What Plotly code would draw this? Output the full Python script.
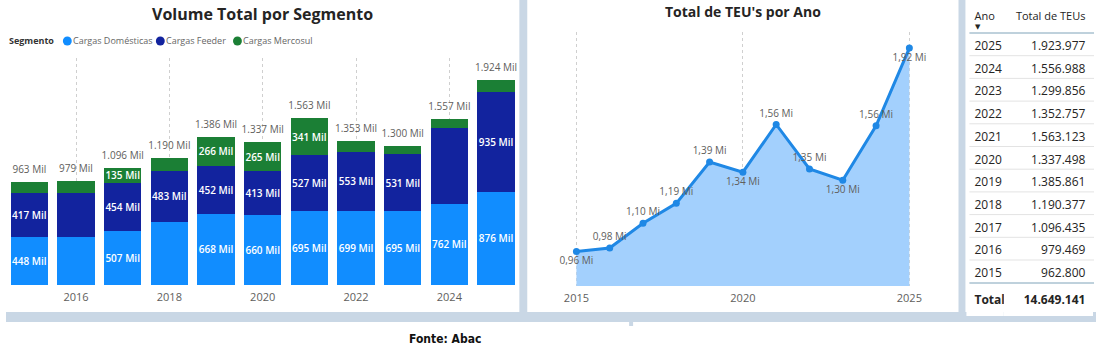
import plotly.graph_objects as go

W, H = 1102, 351

# ---------------- data ----------------
years = [2015, 2016, 2017, 2018, 2019, 2020, 2021, 2022, 2023, 2024, 2025]
# segments, in thousands (Mil)
domesticas = [448, 448, 507, 590, 668, 660, 695, 699, 695, 762, 876]
feeder = [417, 418, 454, 483, 452, 413, 527, 553, 531, 708, 935]
mercosul = [98, 113, 135, 117, 266, 265, 341, 101, 74, 87, 113]
# which inside labels are visible in the reference
show_dom = [1, 0, 1, 0, 1, 1, 1, 1, 1, 1, 1]
show_feed = [1, 0, 1, 1, 1, 1, 1, 1, 1, 0, 1]
show_merc = [0, 0, 1, 0, 1, 1, 1, 0, 0, 0, 0]
# total TEUs per year
totals = [962800, 979469, 1096435, 1190377, 1385861, 1337498,
          1563123, 1352757, 1299856, 1556988, 1923977]
total_sum = 14649141
line_label_pos = ["bottom center", "top center", "top center", "top center", "top center",
                  "bottom center", "top center", "top center", "bottom center",
                  "top center", "bottom center"]

FONT = "Segoe UI, Open Sans, Noto Sans, sans-serif"
C_DOM = "#118DFF"
C_FEED = "#12239E"
C_MERC = "#1B7F35"
GRAY_BG = "#C9D7E5"
TXT_GRAY = "#605E5C"


def px(x):
    return x / W


def py(y):
    return 1 - y / H


def br(n):
    return f"{n:,}".replace(",", ".")


fig = go.Figure()

# ---------------- stacked bars ----------------
for vals, show, color, name in [
    (domesticas, show_dom, C_DOM, "Cargas Domésticas"),
    (feeder, show_feed, C_FEED, "Cargas Feeder"),
    (mercosul, show_merc, C_MERC, "Cargas Mercosul"),
]:
    fig.add_trace(go.Bar(
        x=years, y=vals, name=name, marker=dict(color=color, line=dict(width=0)),
        text=[f"{v} Mil" if s else "" for v, s in zip(vals, show)],
        textposition="inside", insidetextanchor="middle", constraintext="none",
        textangle=0,
        textfont=dict(color="white", size=10, family=FONT, weight=600),
        showlegend=False, hoverinfo="skip", xaxis="x", yaxis="y",
    ))

bar_tot = [round(t / 1000) for t in totals]
fig.add_trace(go.Scatter(
    x=years, y=[d + f + m for d, f, m in zip(domesticas, feeder, mercosul)],
    mode="markers+text", text=[f"{br(t)} Mil" for t in bar_tot], textposition="top center",
    marker=dict(size=9, color="rgba(0,0,0,0)"),
    textfont=dict(color=TXT_GRAY, size=10, family=FONT), showlegend=False,
    cliponaxis=False, hoverinfo="skip", xaxis="x", yaxis="y",
))

# ---------------- area line ----------------
fig.add_trace(go.Scatter(
    x=years, y=totals, mode="lines+markers+text", fill="tozeroy",
    fillcolor="#A3D0FD", line=dict(color="#1F88E5", width=3),
    marker=dict(color="#1F88E5", size=7),
    text=[f"{t/1e6:.2f}".replace(".", ",") + " Mi" for t in totals],
    textposition=line_label_pos,
    textfont=dict(color=TXT_GRAY, size=10, family=FONT),
    cliponaxis=False, showlegend=False, hoverinfo="skip", xaxis="x2", yaxis="y2",
))

# ---------------- table ----------------
NB = "\u00a0"
fig.add_trace(go.Table(
    domain=dict(x=[px(971), px(1100)], y=[py(320), py(4)]),
    columnwidth=[38, 91],
    header=dict(values=["Ano", f"Total{NB}de{NB}TEUs"],
                align=["left", "right"], height=29,
                fill=dict(color="white"), line=dict(color="white", width=0),
                font=dict(family=FONT, size=11, color="#252423")),
    cells=dict(values=[[str(y) for y in years[::-1]] + ["<b>Total</b>"],
                       [br(t) for t in totals[::-1]] + [f"<b>{br(total_sum)}</b>"]],
               align=["left", "right"], height=22.7,
               fill=dict(color="white"), line=dict(color="white", width=0),
               font=dict(family=FONT, size=12, color="#252423")),
))

shapes = []
# gutters / background bands
shapes.append(dict(type="rect", xref="paper", yref="paper", x0=0, x1=1,
                   y0=py(322), y1=py(312), fillcolor=GRAY_BG, line=dict(width=0), layer="below"))
shapes.append(dict(type="rect", xref="paper", yref="paper", x0=px(519), x1=px(527),
                   y0=py(312), y1=1, fillcolor=GRAY_BG, line=dict(width=0), layer="below"))
shapes.append(dict(type="rect", xref="paper", yref="paper", x0=px(963), x1=px(970),
                   y0=py(312), y1=1, fillcolor=GRAY_BG, line=dict(width=0), layer="below"))
shapes.append(dict(type="rect", xref="paper", yref="paper", x0=px(630), x1=px(634),
                   y0=py(326), y1=py(322), fillcolor=GRAY_BG, line=dict(width=0), layer="below"))
# table lines
for i in range(1, 11):
    yy = 33 + 22.7 * i
    shapes.append(dict(type="line", xref="paper", yref="paper", x0=px(974), x1=px(1100),
                       y0=py(yy), y1=py(yy), line=dict(color="#E3E3E3", width=1), layer="above"))
for yy in (33, 283):
    shapes.append(dict(type="line", xref="paper", yref="paper", x0=px(974), x1=px(1100),
                       y0=py(yy), y1=py(yy), line=dict(color="#7FA3B9", width=1), layer="above"))
# legend circles
leg_items = [(62, C_DOM, "Cargas Domésticas", 66), (156, C_FEED, "Cargas Feeder", 160),
             (234, C_MERC, "Cargas Mercosul", 238)]
for cx, col, _, _ in leg_items:
    shapes.append(dict(type="circle", xref="paper", yref="paper",
                       x0=px(cx - 4.5), x1=px(cx + 4.5), y0=py(41 + 4.5), y1=py(41 - 4.5),
                       fillcolor=col, line=dict(width=0)))

annotations = [
    dict(text="<b>Volume Total por Segmento</b>", x=px(259), y=py(14), xref="paper", yref="paper",
         xanchor="center", yanchor="middle",
         showarrow=False, font=dict(family=FONT, size=16, color="#252423")),
    dict(text="<b>Total de TEU's por Ano</b>", x=px(745), y=py(12), xref="paper", yref="paper",
         xanchor="center", yanchor="middle",
         showarrow=False, font=dict(family=FONT, size=14, color="#252423")),
    dict(text="<b>Segmento</b>", x=px(1), y=py(41), xref="paper", yref="paper", xanchor="left",
         yanchor="middle",
         showarrow=False, font=dict(family=FONT, size=9, color="#333333")),
    dict(text="▼", x=px(983), y=py(27), xref="paper", yref="paper", xanchor="center",
         yanchor="middle",
         showarrow=False, font=dict(family="DejaVu Sans", size=7, color="#252423")),
    dict(text="<b>Fonte: Abac</b>", x=px(444), y=py(339), xref="paper", yref="paper",
         xanchor="center", yanchor="middle",
         showarrow=False,
         font=dict(family="Liberation Sans Narrow, DejaVu Sans Condensed, sans-serif",
                   size=12, color="#111111")),
]
for _, _, label, tx in leg_items:
    annotations.append(dict(text=label, x=px(tx), y=py(41), xref="paper", yref="paper",
                            xanchor="left", yanchor="middle", showarrow=False,
                            font=dict(family=FONT, size=9, color="#666666")))

fig.update_layout(
    width=W, height=H, autosize=False, margin=dict(l=0, r=0, t=0, b=0),
    paper_bgcolor="white", plot_bgcolor="rgba(0,0,0,0)",
    barmode="stack", bargap=0.2, showlegend=False,
    shapes=shapes, annotations=annotations,
    xaxis=dict(domain=[0, px(519)], range=[2014.5, 2025.5], tickvals=[2016, 2018, 2020, 2022, 2024],
               showgrid=True, gridcolor="#CFCFCF", griddash="dot", gridwidth=1,
               zeroline=False, showline=False, ticks="", ticklabelstandoff=4,
               tickfont=dict(family=FONT, size=11, color=TXT_GRAY), anchor="y"),
    yaxis=dict(domain=[py(285), py(58)], range=[0, 2130], visible=False, anchor="x"),
    xaxis2=dict(domain=[px(570), px(920)],
                range=[2015 - 6.7 / 33.66, 2025 + 6.7 / 33.66], tickvals=[2015, 2020, 2025],
                showgrid=True, gridcolor="#CFCFCF", griddash="dot", gridwidth=1,
                zeroline=False, showline=False, ticks="", ticklabelstandoff=4,
                tickfont=dict(family=FONT, size=11, color=TXT_GRAY), anchor="y2"),
    yaxis2=dict(domain=[py(286), py(32)], range=[800000, 2000000], visible=False, anchor="x2"),
)

fig.write_html("out.html")
